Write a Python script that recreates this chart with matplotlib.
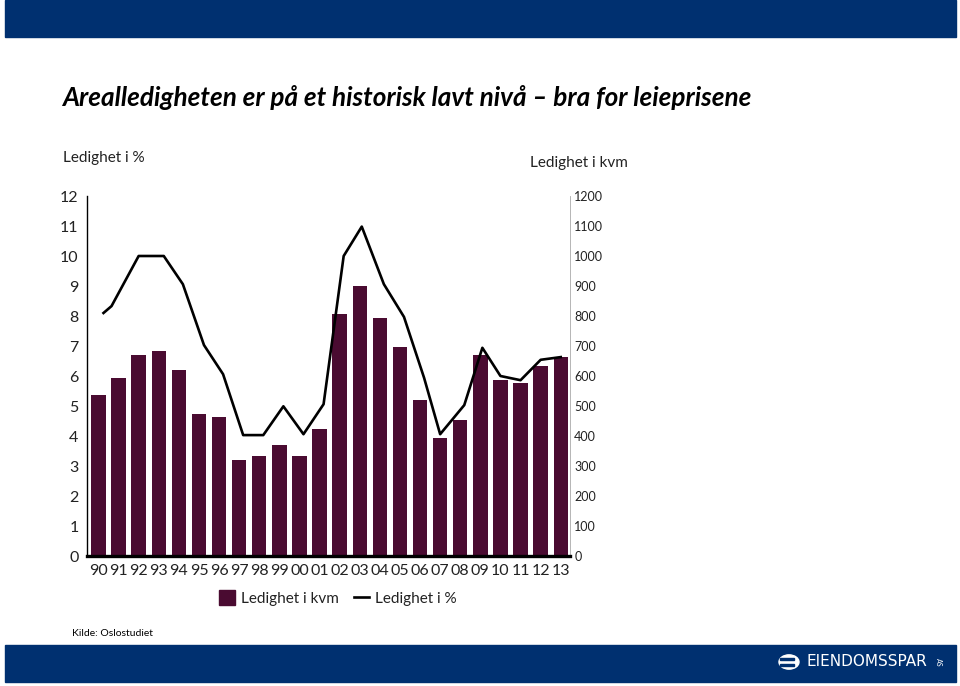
import matplotlib
matplotlib.use("Agg")
import matplotlib.pyplot as plt
from matplotlib.patches import Rectangle, Circle
from matplotlib.lines import Line2D

# data
years = ["90", "91", "92", "93", "94", "95", "96", "97", "98", "99", "00", "01",
         "02", "03", "04", "05", "06", "07", "08", "09", "10", "11", "12", "13"]
ledighet_kvm = [537, 594, 669, 682, 621, 474, 464, 319, 332, 370, 332, 424,
                806, 899, 794, 697, 519, 392, 453, 670, 586, 576, 634, 664]
# the % line is drawn slightly shifted against the bars in the original
pct_x = [0.25, 0.65, 2.0, 3.25, 4.2, 5.25, 6.2, 7.2, 8.2, 9.2, 10.2, 11.2,
         12.2, 13.1, 14.2, 15.2, 16.2, 17.0, 18.2, 19.1, 20.0, 21.0, 22.0, 23.0]
ledighet_pct = [8.1, 8.33, 10.0, 10.0, 9.06, 7.03, 6.06, 4.03, 4.03, 4.99, 4.06, 5.06,
                10.0, 10.98, 9.06, 7.97, 5.94, 4.06, 5.03, 6.94, 6.0, 5.86, 6.54, 6.63]
left_ticks = list(range(0, 13))
right_ticks = list(range(0, 1201, 100))

W, H = 960, 686
NAVY = "#003070"
BAR = "#4a0b31"
FONT = ["Lato", "DejaVu Sans"]

plt.rcParams["font.family"] = FONT

fig = plt.figure(figsize=(W / 100, H / 100), dpi=100)


def fx(px):
    return px / W


def fy(py):
    return 1 - py / H


# header / footer bands
fig.patches.append(Rectangle((fx(5), fy(37)), fx(951), 37 / H,
                             transform=fig.transFigure, color=NAVY, zorder=0))
fig.patches.append(Rectangle((fx(5), fy(682)), fx(951), 37 / H,
                             transform=fig.transFigure, color=NAVY, zorder=0))

fig.text(fx(62), fy(97), "Arealledigheten er på et historisk lavt nivå – bra for leieprisene",
         fontsize=18.8, fontweight="bold", fontstyle="italic", va="center", ha="left")
fig.text(fx(72), fy(634), "Kilde: Oslostudiet", fontsize=7.5, va="center", ha="left")

# logo
fig.patches.append(Circle((fx(789), fy(662)), 10 / W, transform=fig.transFigure,
                          color="white", zorder=3))
for dy in (-3, 3):
    fig.patches.append(Rectangle((fx(780), fy(662 + dy) - 0.6 / H), 14 / W, 1.6 / H,
                                 transform=fig.transFigure, color=NAVY, zorder=4))
fig.text(fx(807), fy(662), "EIENDOMSSPAR", color="white", fontsize=11,
         va="center", ha="left", fontfamily="DejaVu Sans")
fig.text(fx(935), fy(662), "AS", color="white", fontsize=5, rotation=-90,
         va="center", ha="left")

# main axes
x0, x1 = 87, 570
y0, y1 = 556, 196
ax = fig.add_axes([fx(x0), fy(y0), fx(x1 - x0), (y0 - y1) / H])
ax2 = ax.twinx()

xs = list(range(len(years)))
ax2.bar(xs, ledighet_kvm, width=0.72, color=BAR, zorder=2)
ax.plot(pct_x, ledighet_pct, color="black", lw=1.9, zorder=5)

ax.set_zorder(ax2.get_zorder() + 1)
ax.patch.set_visible(False)

ax.set_xlim(-0.57, 23.46)
ax.set_ylim(0, 12)
ax2.set_ylim(0, 1200)

ax.set_xticks(xs)
ax.set_xticklabels(years)
ax.set_yticks(left_ticks)
ax2.set_yticks(right_ticks)

ax.tick_params(axis="both", length=0, labelsize=11.5, colors="#222222")
ax.tick_params(axis="x", pad=6)
ax.tick_params(axis="y", pad=6)
ax2.tick_params(axis="y", length=0, labelsize=9, pad=3, colors="#222222")

for a in (ax, ax2):
    for s in a.spines.values():
        s.set_visible(False)
ax.spines["left"].set_visible(True)
ax.spines["left"].set_linewidth(1.0)
ax.spines["bottom"].set_visible(True)
ax.spines["bottom"].set_linewidth(2.4)
ax2.spines["right"].set_visible(True)
ax2.spines["right"].set_linewidth(0.6)
ax2.spines["right"].set_color("#aaaaaa")

fig.text(fx(63), fy(158), "Ledighet i %", fontsize=11, va="center", ha="left", color="#222222")
fig.text(fx(530), fy(163), "Ledighet i kvm", fontsize=11, va="center", ha="left", color="#222222")

handles = [Rectangle((0, 0), 1, 1, color=BAR),
           Line2D([0], [0], color="black", lw=1.9)]
fig.legend(handles, ["Ledighet i kvm", "Ledighet i %"], loc="center",
           bbox_to_anchor=(fx(338), fy(598)), ncol=2, frameon=False,
           fontsize=11, handlelength=1.0, handleheight=1.1, handletextpad=0.4,
           columnspacing=1.0, labelcolor="#222222")

fig.savefig("out.png", dpi=100)
